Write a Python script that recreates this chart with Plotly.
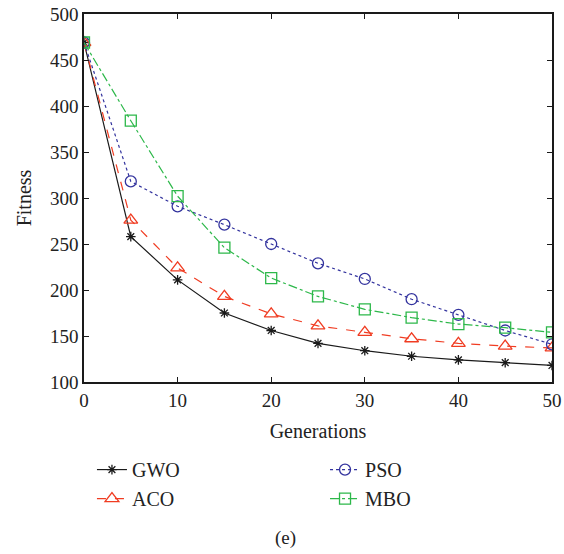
import plotly.graph_objects as go

generations = [0, 5, 10, 15, 20, 25, 30, 35, 40, 45, 50]
gwo = [469, 258, 211, 175, 156, 142, 134, 128, 124, 121, 118]
aco = [469, 276, 224, 193, 174, 161, 154, 147, 142, 139, 137]
pso = [469, 318, 291, 271, 250, 229, 212, 190, 173, 156, 141]
mbo = [469, 384, 302, 246, 213, 193, 179, 170, 163, 159, 154]

x_ticks = [0, 10, 20, 30, 40, 50]
y_ticks = [100, 150, 200, 250, 300, 350, 400, 450, 500]

FONT = "'Liberation Serif', 'Times New Roman', 'DejaVu Serif', serif"
TXT = "#222"

fig = go.Figure()

series = [
    ("GWO", gwo, "#1a1a1a", "solid", "asterisk-open", 8, "legend"),
    ("ACO", aco, "#f03c22", "dash", "triangle-up-open", 12, "legend"),
    ("PSO", pso, "#33339e", "dot", "circle-open", 11, "legend2"),
    ("MBO", mbo, "#2db84a", "dashdot", "square-open", 11, "legend2"),
]
for name, vals, col, dash, sym, size, leg in series:
    fig.add_trace(go.Scatter(
        x=generations, y=vals, name=name, mode="lines+markers",
        line=dict(color=col, width=1.2, dash=dash),
        marker=dict(symbol=sym, size=size, color=col, line=dict(color=col, width=1.3)),
        legend=leg,
    ))

axis_common = dict(
    showline=True, linecolor="#1a1a1a", linewidth=1.5, mirror="ticks",
    ticks="inside", ticklen=5, tickwidth=1, tickcolor="#1a1a1a",
    showgrid=False, zeroline=False,
    tickfont=dict(family=FONT, size=19, color=TXT),
)

fig.update_xaxes(range=[0, 50], tickvals=x_ticks,
                 title=dict(text="Generations", font=dict(family=FONT, size=20, color=TXT), standoff=14),
                 **axis_common)
fig.update_yaxes(range=[100, 500], tickvals=y_ticks,
                 title=dict(text="Fitness", font=dict(family=FONT, size=20, color=TXT), standoff=13),
                 **axis_common)

leg_common = dict(
    orientation="v", xanchor="left", yanchor="top",
    font=dict(family=FONT, size=20, color=TXT),
    bgcolor="rgba(0,0,0,0)", tracegroupgap=0, itemwidth=30,
)
fig.update_layout(
    width=564, height=554,
    font=dict(family=FONT, color=TXT),
    margin=dict(l=84, r=12, t=14, b=172, autoexpand=False),
    paper_bgcolor="white", plot_bgcolor="white",
    legend=dict(x=0.017, y=-0.185, **leg_common),
    legend2=dict(x=0.515, y=-0.185, **leg_common),
    annotations=[dict(text="(e)", x=0.43, y=-0.424, xref="paper", yref="paper",
                      yanchor="middle", showarrow=False,
                      font=dict(family=FONT, size=19, color=TXT))],
)

fig.write_html("out.html")
